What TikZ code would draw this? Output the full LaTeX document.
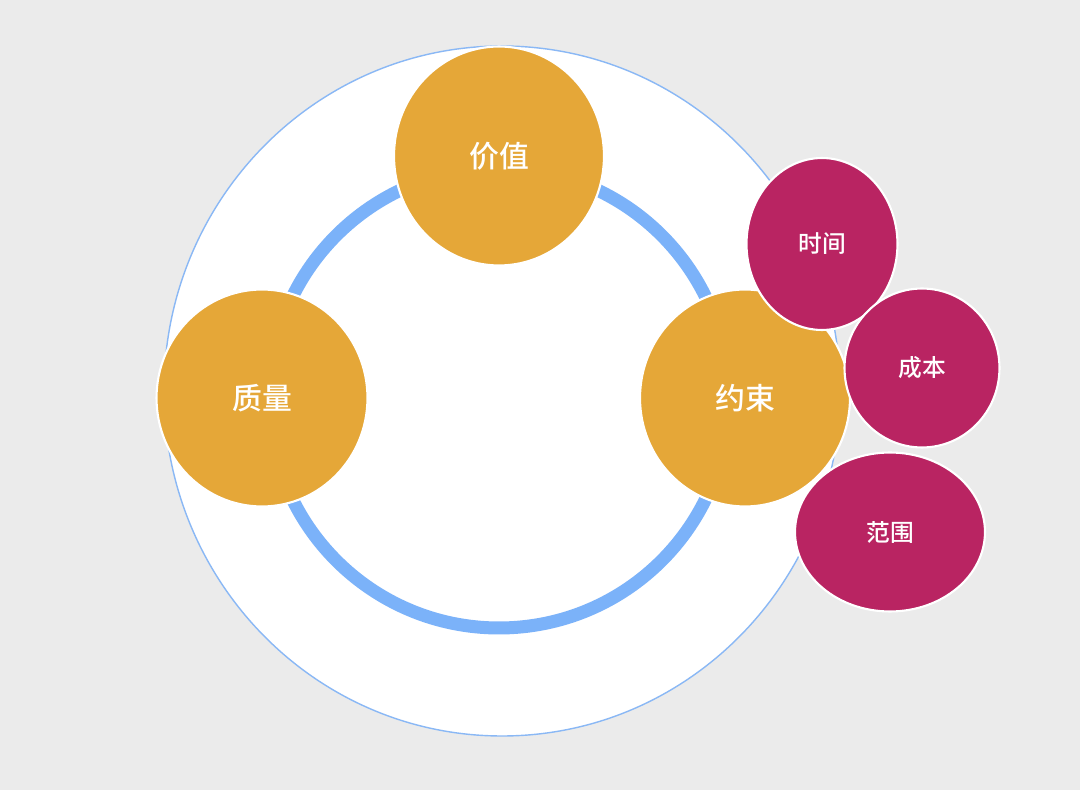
\documentclass[tikz,border=0pt]{standalone}
\usepackage{fontspec}
\newfontfamily\cjk[BoldFont={Noto Sans CJK SC Medium}]{Noto Sans CJK SC}
\usetikzlibrary{shapes.geometric}

\definecolor{bggray}{HTML}{EBEBEB}
\definecolor{ringblue}{HTML}{7BB2F9}
\definecolor{lineblue}{HTML}{8AB8F5}
\definecolor{gold}{HTML}{E5A738}
\definecolor{berry}{HTML}{B92462}

\tikzset{
  blob/.style={ellipse, draw=white, line width=1.2pt, inner sep=0pt,
    text=white, font=\cjk\bfseries},
  bigblob/.style={blob, fill=gold, font=\cjk\bfseries\fontsize{17}{17}\selectfont},
  smallblob/.style={blob, fill=berry, font=\cjk\bfseries\fontsize{13.5}{13.5}\selectfont}
}

\begin{document}
\begin{tikzpicture}[x=0.02cm,y=-0.02cm]
\fill[bggray] (0,0) rectangle (1080,790);

% outer disc and ring
\filldraw[fill=white, draw=lineblue, line width=0.8pt] (502,391) ellipse [x radius=338, y radius=345];
\draw[ringblue, line width=0.26cm] (499,398) circle (230);

% main blobs
\node[bigblob, minimum width=4.2cm, minimum height=4.38cm] (value) at (499,156) {价值};
\node[bigblob, minimum width=4.22cm, minimum height=4.34cm] (quality) at (262,398) {质量};
\node[bigblob, minimum width=4.2cm, minimum height=4.34cm] (constraint) at (745,398) {约束};

% constraint parts
\node[smallblob, minimum width=3.02cm, minimum height=3.44cm] (time) at (822,244) {时间};
\node[smallblob, minimum width=3.1cm, minimum height=3.18cm] (cost) at (922,368) {成本};
\node[smallblob, minimum width=3.8cm, minimum height=3.18cm] (scope) at (890,532) {范围};
\end{tikzpicture}
\end{document}
